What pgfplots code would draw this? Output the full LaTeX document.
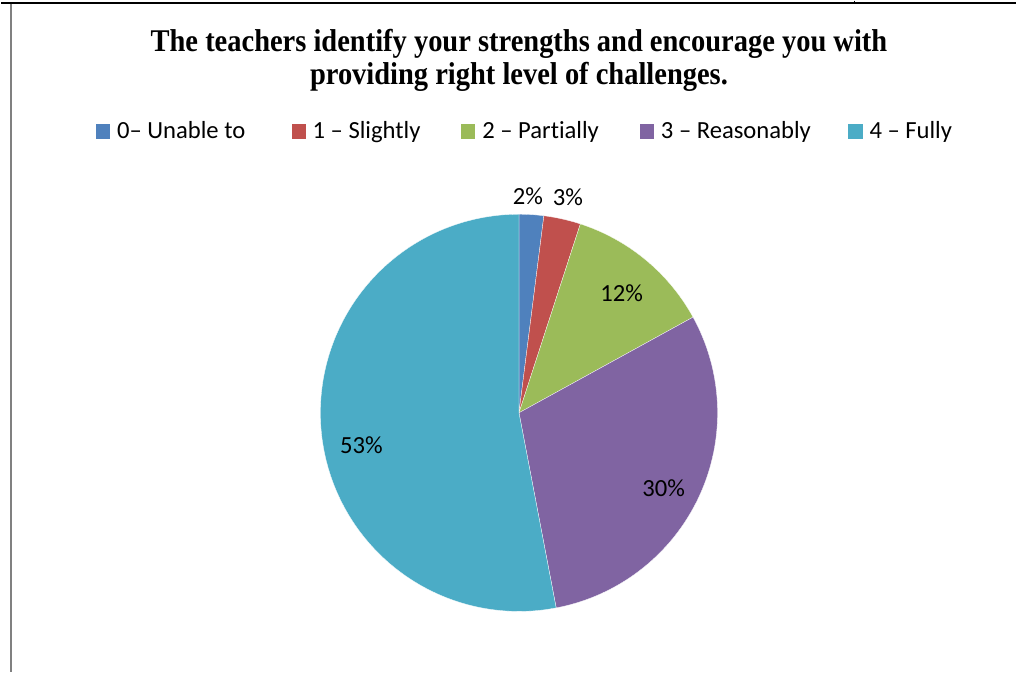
\documentclass[border=0pt]{standalone}
\usepackage{pgfplots}
\pgfplotsset{compat=1.18}
\usepackage{pgfplotstable}
\usepackage{fontspec}
\setmainfont{Liberation Serif}
\newfontfamily\calibri[Ligatures={NoCommon,NoRare,NoContextual}]{Carlito}

\definecolor{cblue}{HTML}{4F81BD}
\definecolor{cred}{HTML}{C0504D}
\definecolor{cgreen}{HTML}{9BBB59}
\definecolor{cpurple}{HTML}{8064A2}
\definecolor{cteal}{HTML}{4BACC6}

% share of answers, in percent
\pgfplotstableread{
level pct
0 2
1 3
2 12
3 30
4 53
}\piedata

% slice angles, clockwise from the top
\def\cx{519}\def\cy{413}\def\rr{199}
\pgfmathsetmacro\angA{90}
\pgfplotstablegetelem{0}{pct}\of\piedata \pgfmathsetmacro\angB{\angA-3.6*\pgfplotsretval}
\pgfplotstablegetelem{1}{pct}\of\piedata \pgfmathsetmacro\angC{\angB-3.6*\pgfplotsretval}
\pgfplotstablegetelem{2}{pct}\of\piedata \pgfmathsetmacro\angD{\angC-3.6*\pgfplotsretval}
\pgfplotstablegetelem{3}{pct}\of\piedata \pgfmathsetmacro\angE{\angD-3.6*\pgfplotsretval}
\pgfplotstablegetelem{4}{pct}\of\piedata \pgfmathsetmacro\angF{\angE-3.6*\pgfplotsretval}

\newcommand{\lbl}{\calibri\fontsize{18.5}{20}\selectfont}

\begin{document}
\begin{tikzpicture}
\begin{axis}[
  width=762.75pt, height=504.75pt, scale only axis,
  xmin=0, xmax=1017, ymin=0, ymax=673, y dir=reverse,
  hide axis, clip=false,
  slice/.style={draw=white, line width=0.2pt, samples=60, smooth=false},
]
\path (rel axis cs:0,0) rectangle (rel axis cs:1,1);

% frame of the surrounding table
\addplot[black, line width=1.6pt] coordinates {(0,2.5) (1017,2.5)};
\addplot[black, line width=1pt] coordinates {(855,0) (855,3)};
\addplot[gray, line width=1.6pt] coordinates {(10,3) (10,673)};

% slices
\addplot[slice, fill=cblue, domain=\angB:\angA] ({\cx+\rr*cos(x)},{\cy-\rr*sin(x)}) -- (axis cs:\cx,\cy) -- cycle;
\addplot[slice, fill=cred, domain=\angC:\angB] ({\cx+\rr*cos(x)},{\cy-\rr*sin(x)}) -- (axis cs:\cx,\cy) -- cycle;
\addplot[slice, fill=cgreen, domain=\angD:\angC] ({\cx+\rr*cos(x)},{\cy-\rr*sin(x)}) -- (axis cs:\cx,\cy) -- cycle;
\addplot[slice, fill=cpurple, domain=\angE:\angD] ({\cx+\rr*cos(x)},{\cy-\rr*sin(x)}) -- (axis cs:\cx,\cy) -- cycle;
\addplot[slice, fill=cteal, domain=\angF:\angE] ({\cx+\rr*cos(x)},{\cy-\rr*sin(x)}) -- (axis cs:\cx,\cy) -- cycle;

% data labels
\node[font=\lbl] at (axis cs:528,196) {2\%};
\node[font=\lbl] at (axis cs:568,197) {3\%};
\node[font=\lbl] at (axis cs:622,293) {12\%};
\node[font=\lbl] at (axis cs:664,489) {30\%};
\node[font=\lbl] at (axis cs:361,445) {53\%};

% title
\node[anchor=base, inner sep=0pt] at (axis cs:519,51)
  {\scalebox{1}[1.11]{\fontsize{21.4}{24}\selectfont\bfseries The teachers identify your strengths and encourage you with}};
\node[anchor=base, inner sep=0pt] at (axis cs:519,84)
  {\scalebox{1}[1.11]{\fontsize{21.4}{24}\selectfont\bfseries providing right level of challenges.}};

% legend
\addplot[only marks, mark=square*, mark size=5pt, cblue] coordinates {(102,131)};
\addplot[only marks, mark=square*, mark size=5pt, cred] coordinates {(298,131)};
\addplot[only marks, mark=square*, mark size=5pt, cgreen] coordinates {(468,131)};
\addplot[only marks, mark=square*, mark size=5pt, cpurple] coordinates {(647,131)};
\addplot[only marks, mark=square*, mark size=5pt, cteal] coordinates {(856,131)};
\node[font=\lbl, anchor=base west, inner sep=0pt] at (axis cs:116,138) {0– Unable to};
\node[font=\lbl, anchor=base west, inner sep=0pt] at (axis cs:312,138) {1 – Slightly};
\node[font=\lbl, anchor=base west, inner sep=0pt] at (axis cs:482,138) {2 – Partially};
\node[font=\lbl, anchor=base west, inner sep=0pt] at (axis cs:661,138) {3 – Reasonably};
\node[font=\lbl, anchor=base west, inner sep=0pt] at (axis cs:870,138) {4 – Fully};
\end{axis}
\end{tikzpicture}
\end{document}
